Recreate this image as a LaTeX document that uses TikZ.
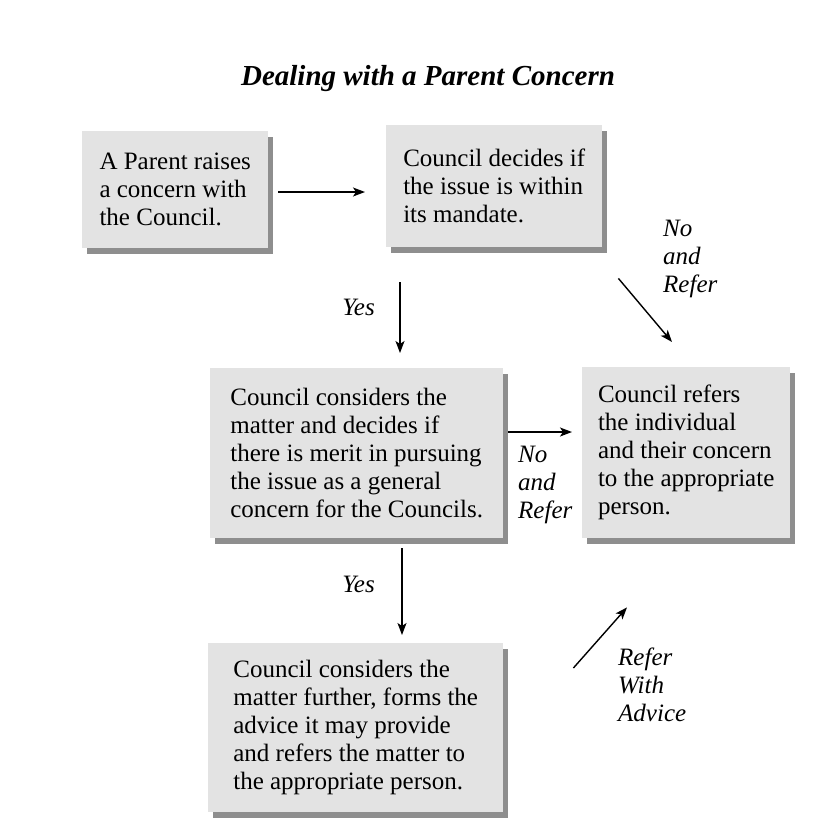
\documentclass[tikz,border=0pt]{standalone}
\usepackage{fontspec}
\setmainfont{Liberation Serif}
\usetikzlibrary{arrows.meta,calc,shadows}
\definecolor{cardgray}{HTML}{E3E3E3}
\definecolor{cardshade}{HTML}{8E8E8E}
\begin{document}
\begin{tikzpicture}[x=1pt, y=-1pt, >={Stealth[length=12pt,width=9pt,inset=3pt]},
    card/.style={anchor=north west, fill=cardgray, align=left, inner sep=0pt,
        font=\fontsize{25}{28}\selectfont,
        general shadow={fill=cardshade, shadow xshift=5pt, shadow yshift=-6pt}},
    tag/.style={anchor=north west, align=left, inner sep=0pt, font=\fontsize{25}{28}\selectfont\itshape},
    flow/.style={->, line width=1.4pt}]
    \useasboundingbox (0,0) rectangle (838,839);
    \node[anchor=base, font=\fontsize{29}{34}\selectfont\bfseries\itshape] (title) at (428,85) {Dealing with a Parent Concern};
    \node[card, minimum width=186pt, minimum height=117pt] (parent) at (82,131) {A Parent raises\\a concern with\\the Council.};
    \node[card, minimum width=216pt, minimum height=122pt] (mandate) at (386,125) {Council decides if\\the issue is within\\its mandate.};
    \node[card, minimum width=293pt, minimum height=170pt] (consider) at (210,368) {Council considers the\\matter and decides if\\there is merit in pursuing\\the issue as a general\\concern for the Councils.};
    \node[card, minimum width=208pt, minimum height=171pt] (refer) at (582,367) {Council refers\\the individual\\and their concern\\to the appropriate\\person.};
    \node[card, minimum width=295pt, minimum height=169pt] (further) at (208,643) {Council considers the\\matter further, forms the\\advice it may provide\\and refers the matter to\\the appropriate person.};
    \node[tag, anchor=base east] (yesa) at (375,315) {Yes};
    \node[tag, anchor=base east] (yesb) at (375,592) {Yes};
    \node[tag] (noa) at (518,446) {No\\and\\Refer};
    \node[tag] (nob) at (663,220) {No\\and\\Refer};
    \node[tag] (advice) at (618,648) {Refer\\With\\Advice};
    \draw[flow] ($(parent.north east)+(10,61)$) -- ($(mandate.north west)+(-21,67)$);
    \draw[flow] ($(mandate.south west)+(14,35)$) -- ($(consider.north west)+(190,-15)$);
    \draw[flow] ($(consider.south west)+(192,10)$) -- ($(further.north west)+(194,-8)$);
    \draw[flow] ($(consider.north east)+(5,64)$) -- ($(refer.north west)+(-10,65)$);
    \draw[flow] ($(mandate.south east)+(16,31)$) -- ($(refer.north west)+(90,-25)$);
    \draw[flow] ($(further.north east)+(70,25)$) -- ($(refer.south west)+(45,69)$);
\end{tikzpicture}
\end{document}
